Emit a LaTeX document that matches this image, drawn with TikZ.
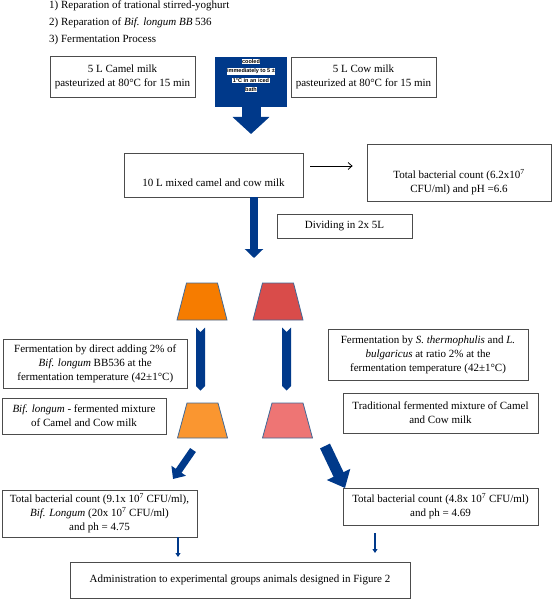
\documentclass[tikz,border=0pt]{standalone}
\usepackage{fontspec}
\setmainfont{Liberation Serif}
\newfontfamily\callfont{Liberation Sans}
\usetikzlibrary{shapes.symbols,arrows.meta}
\definecolor{navy}{RGB}{0,57,138}
\definecolor{trapline}{RGB}{65,105,150}
\definecolor{orangeA}{RGB}{246,124,0}
\definecolor{redA}{RGB}{217,76,74}
\definecolor{orangeB}{RGB}{250,150,48}
\definecolor{pinkB}{RGB}{238,117,116}
\newcommand\hlw[1]{{\setlength\fboxsep{0.5pt}\colorbox{white}{#1}}}
% trapezoid: colour, centre x, centre y, half height
\newcommand\trapz[4]{\filldraw[draw=trapline,line width=0.8pt,fill=#1]
  (#2-25,#3+#4) -- (#2+25,#3+#4) -- (#2+15.5,#3-#4) -- (#2-15.5,#3-#4) -- cycle;}

\begin{document}
\begin{tikzpicture}[x=1pt,y=-1pt,
  txt/.style={align=center,inner sep=0pt,font=\fontsize{11}{14}\selectfont},
  box/.style={txt,draw=black!70,line width=0.75pt},
  chev/.style={signal,signal from=north,signal to=south,signal pointer angle=90,fill=navy,minimum width=9pt,minimum height=54pt,inner sep=0pt}]
\useasboundingbox (0,0) rectangle (552,599);

\node[txt,anchor=west] (h1) at (49,5.5) {1) Reparation of trational stirred-yoghurt};
\node[txt,anchor=west] (h2) at (49,23) {2) Reparation of \textit{Bif. longum BB} 536};
\node[txt,anchor=west] (h3) at (49,40) {3) Fermentation Process};

\node[box,minimum width=145pt,minimum height=41pt] (0) at (122.5,76.5) {5 L Camel milk\\pasteurized at 80°C for 15 min};
\node[fill=navy,minimum width=72pt,minimum height=50pt,inner sep=0pt] (1) at (251,82) {};
\node[anchor=north,align=center,inner sep=0pt,font=\callfont\bfseries\fontsize{5.5}{9.2}\selectfont] (2) at (251,59) {\hlw{cooled}\\\hlw{immediately to 5 ±}\\\hlw{1°C in an iced}\\\hlw{bath}};
\node[box,minimum width=145pt,minimum height=40pt] (3) at (363.5,77) {5 L Cow milk\\pasteurized at 80°C for 15 min};

\node[box,minimum width=179pt,minimum height=44pt] (4) at (213.5,175) {};
\node[txt] (4t) at ([yshift=-8pt]4.center) {10 L mixed camel and cow milk};
\node[box,minimum width=184pt,minimum height=57pt] (5) at (459,172.5) {};
\node[txt] (5t) at ([yshift=-10pt]5.center) {Total bacterial count (6.2x10\textsuperscript{7}\\CFU/ml) and pH =6.6};
\node[box,minimum width=135pt,minimum height=24pt] (6) at (344.5,226) {Dividing in 2x 5L};

\trapz{orangeA}{202}{301.5}{18.5}
\trapz{redA}{278}{301.5}{18.5}
\node[box,minimum width=183.5pt,minimum height=49pt] (9) at (95.25,363.5) {Fermentation by direct adding 2\% of\\\textit{Bif. longum} BB536 at the\\fermentation temperature (42±1°C)};
\node[chev] (10) at (200.5,359) {};
\node[chev] (11) at (286.5,359) {};
\node[box,minimum width=200pt,minimum height=51pt] (12) at (428,354.5) {Fermentation by \textit{S. thermophulis} and \textit{L.}\\\textit{bulgaricus} at ratio 2\% at the\\fermentation temperature (42±1°C)};

\trapz{orangeB}{202.5}{420.5}{17.5}
\trapz{pinkB}{287.5}{420.5}{17.5}
\node[box,minimum width=164pt,minimum height=36pt] (15) at (84,416) {\textit{Bif. longum} - fermented mixture\\of Camel and Cow milk};
\node[box,minimum width=195pt,minimum height=40pt] (16) at (440.5,413) {Traditional fermented mixture of Camel\\and Cow milk};

\node[box,minimum width=195pt,minimum height=47pt] (17) at (99.5,513.5) {Total bacterial count (9.1x 10\textsuperscript{7} CFU/ml),\\\textit{Bif. Longum} (20x 10\textsuperscript{7} CFU/ml)\\and ph = 4.75};
\node[box,minimum width=195pt,minimum height=37pt] (18) at (440.5,506.5) {Total bacterial count (4.8x 10\textsuperscript{7} CFU/ml)\\and ph = 4.69};
\node[box,minimum width=340pt,minimum height=36pt] (19) at (240,580) {Administration to experimental groups animals designed in Figure 2};

% arrow ends
\coordinate (c1) at (251,134);
\coordinate (c2) at (254,258);
\coordinate (c3) at (193,450);
\coordinate (c4) at (173,479);
\coordinate (c5) at (325,446);
\coordinate (c6) at (345,488);
\coordinate (c7) at (178,557);
\coordinate (c8) at (375,533);
\coordinate (c9) at (375,553);

\draw[navy,line width=19pt,-{Triangle[width=36pt,length=17pt]}] (1.south) -- (c1);
\draw[black,line width=0.8pt,-{Straight Barb[length=4pt,width=7pt]}] ([shift={(7,-9)}]4.east) -- ([shift={(-14,-6.5)}]5.west);
\draw[navy,line width=8pt,-{Triangle[width=18pt,length=9pt]}] ([xshift=40.5pt]4.south) -- (c2);
\draw[navy,line width=7pt,-{Triangle[width=17pt,length=10pt]}] (c3) -- (c4);
\draw[navy,line width=11pt,-{Triangle[width=25pt,length=15pt]}] (c5) -- (c6);
\draw[navy,line width=1.8pt,-{Triangle[width=5pt,length=4pt]}] ([xshift=78.5pt]17.south) -- (c7);
\draw[navy,line width=1.8pt,-{Triangle[width=5pt,length=4pt]}] (c8) -- (c9);
\end{tikzpicture}
\end{document}
